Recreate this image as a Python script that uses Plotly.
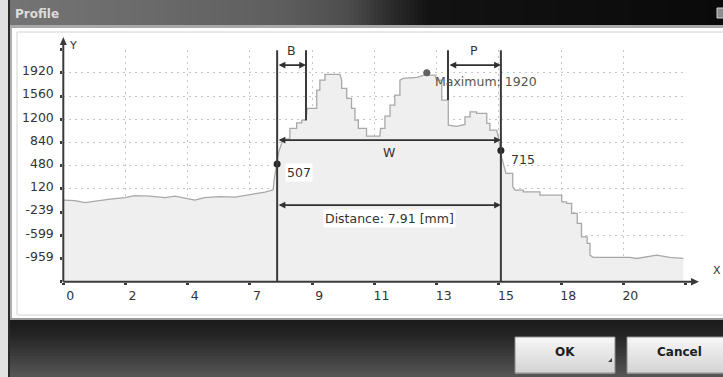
import numpy as np
import plotly.graph_objects as go

FIG_W, FIG_H = 723, 377

# Height profile along the scan line (x in mm, height in µm)
PROFILE_X = [0.00, 0.41, 0.77, 1.12, 1.65, 2.18, 2.53, 3.06, 3.60, 3.95, 4.48, 4.65,
             5.00, 5.54, 6.07, 6.43, 6.78, 7.13, 7.38, 7.42, 7.45, 7.52, 7.56, 7.62,
             7.72, 7.75, 8.01, 8.01, 8.25, 8.25, 8.43, 8.43, 8.58, 8.62, 8.96, 8.96,
             9.07, 9.07, 9.25, 9.25, 9.78, 9.84, 9.84, 10.02, 10.02, 10.19, 10.19,
             10.31, 10.31, 10.43, 10.43, 10.72, 10.72, 11.19, 11.22, 11.37, 11.37,
             11.55, 11.55, 11.72, 11.72, 11.90, 11.90, 12.02, 12.50, 12.75, 12.85,
             12.90, 13.14, 13.20, 13.38, 13.38, 13.61, 13.61, 13.90, 14.20, 14.20,
             14.38, 14.38, 14.61, 14.61, 14.97, 14.97, 15.08, 15.08, 15.32, 15.38,
             15.47, 15.50, 15.65, 15.89, 15.89, 15.97, 16.26, 16.26, 16.85, 16.85,
             17.62, 17.62, 17.79, 17.79, 17.97, 17.97, 18.17, 18.17, 18.32, 18.32,
             18.52, 18.52, 18.62, 18.62, 18.73, 20.03, 20.27, 20.62, 20.98, 21.44,
             21.92]
PROFILE_Y = [-55, -62, -93, -70, -39, -16, 15, 8, -16, 8, -39, -55,
             -16, 0, -8, 15, 38, 70, 100, 110, 250, 420, 507, 700,
             825, 876, 900, 1058, 1058, 1144, 1144, 1186, 1186, 1368, 1368, 1652,
             1652, 1807, 1807, 1895, 1895, 1807, 1678, 1678, 1523, 1523, 1368,
             1368, 1186, 1186, 1058, 1058, 938, 938, 1058, 1058, 1248,
             1248, 1419, 1419, 1574, 1574, 1807, 1833, 1850, 1884, 1920,
             1884, 1884, 1807, 1807, 1497, 1497, 1109, 1090, 1120, 1238,
             1238, 1315, 1315, 1290, 1290, 1135, 1135, 1031, 1031, 927,
             715, 600, 360, 360, 152, 101, 101, 74, 74, 23,
             23, -81, -81, -106, -106, -261, -261, -416, -416, -624,
             -624, -726, -726, -908, -943, -943, -960, -934, -908, -943,
             -959]

X_TICKS = [0, 2.2, 4.4, 6.6, 8.8, 11.0, 13.2, 15.4, 17.6, 19.8, 22.0]
X_TICK_LABELS = ['0', '2', '4', '7', '9', '11', '13', '15', '18', '20', '']
Y_TICKS = [-1320, -960, -600, -240, 120, 480, 840, 1200, 1560, 1920, 2280]
Y_TICK_LABELS = ['', '-959', '-599', '-239', '120', '480', '840', '1200', '1560', '1920', '']

# Measurement cursors (mm)
EDGE_LEFT = 7.56
EDGE_RIGHT = 15.47
B_EDGE = 8.58
P_EDGE = 13.60

X_RANGE = [0, 22]
Y_RANGE = [-1320, 2280]

# Plot-area box in pixels
PLOT_L, PLOT_R, PLOT_T, PLOT_B = 63.3, 685.6, 49.6, 281.7

CURSOR_TOP = 2270
BP_ARROW_Y = 2040
W_ARROW_Y = 876
DIST_ARROW_Y = -132

FONT = "DejaVu Sans"
INK = "#333333"
FS = 12.5


def fx(px):
    return px / FIG_W


def fy(py):
    return 1 - py / FIG_H


def gray(v):
    v = int(round(v))
    return f"rgb({v},{v},{v})"


shapes = []
annotations = []


def rect(x0, y0, x1, y1, fill, line_color=None, lw=0, layer="below"):
    shapes.append(dict(type="rect", xref="paper", yref="paper",
                       x0=fx(x0), x1=fx(x1), y0=fy(y1), y1=fy(y0),
                       fillcolor=fill, layer=layer,
                       line=dict(width=lw, color=line_color or fill)))


def hline_px(x0, x1, y, color, lw=1, layer="below"):
    shapes.append(dict(type="line", xref="paper", yref="paper",
                       x0=fx(x0), x1=fx(x1), y0=fy(y), y1=fy(y),
                       line=dict(color=color, width=lw), layer=layer))


def vline_px(x, y0, y1, color, lw=1, layer="below"):
    shapes.append(dict(type="line", xref="paper", yref="paper",
                       x0=fx(x), x1=fx(x), y0=fy(y0), y1=fy(y1),
                       line=dict(color=color, width=lw), layer=layer))


def path_px(points, fill, layer="above"):
    d = "M " + " L ".join(f"{fx(a):.5f},{fy(b):.5f}" for a, b in points) + " Z"
    shapes.append(dict(type="path", xref="paper", yref="paper", path=d,
                       fillcolor=fill, line=dict(width=0), layer=layer))


def hgradient(x0, x1, y0, y1, stops, step=4):
    xs, vs = zip(*stops)
    x = x0
    while x < x1:
        xe = min(x + step, x1)
        rect(x, y0, xe + 0.6, y1, gray(np.interp((x + xe) / 2, xs, vs)))
        x = xe


def vgradient(x0, x1, y0, y1, stops, step=3):
    ys, vs = zip(*stops)
    y = y0
    while y < y1:
        ye = min(y + step, y1)
        rect(x0, y, x1, ye + 0.6, gray(np.interp((y + ye) / 2, ys, vs)))
        y = ye


# ---- dialog window chrome ----
rect(0, 0, FIG_W, FIG_H, "#2a2a2a")
rect(0, 0, 8, FIG_H, "#e2e2e2")
rect(8, 0, 10, FIG_H, "#2b2b2b")
hgradient(10, FIG_W, 0, 25, [(10, 0x74), (150, 0x6a), (280, 0x5e), (350, 0x4c),
                              (390, 0x2c), (430, 0x12), (FIG_W, 0x0a)])
rect(10, 25, FIG_W, 28, "#a8a8a8")
rect(10, 28, FIG_W, 318, "#ffffff")
rect(10, 28, 12, 318, "#b0b0b0")
rect(17, 32, FIG_W + 5, 315, "rgba(0,0,0,0)", "#d2d2d2", 1)
rect(10, 318, FIG_W, 320, "#9a9a9a")
vgradient(10, FIG_W, 320, FIG_H, [(320, 0x1a), (335, 0x24), (FIG_H, 0x56)])
rect(717, 8, 727, 18, "#8e8e8e", "#d0d0d0", 1)

# buttons
for bx0, bx1 in [(515, 615), (627, 735)]:
    vgradient(bx0, bx1, 337, 373, [(337, 0xf7), (373, 0xd3)], step=2)
    rect(bx0, 337, bx1, 373, "rgba(0,0,0,0)", "#8c8c8c", 1)
    path_px([(bx1 - 3, 358), (bx1 - 3, 362), (bx1 - 7, 362)], "#404040", layer="below")

annotations += [
    dict(text="<b>Profile</b>", x=fx(13), y=fy(14), xref="paper", yref="paper",
         xanchor="left", yanchor="middle", showarrow=False,
         font=dict(family=FONT, size=12, color="#dcdcdc")),
    dict(text="<b>OK</b>", x=fx(565), y=fy(352), xref="paper", yref="paper",
         xanchor="center", yanchor="middle", showarrow=False,
         font=dict(family=FONT, size=12, color="#202020")),
    dict(text="<b>Cancel</b>", x=fx(679), y=fy(352), xref="paper", yref="paper",
         xanchor="center", yanchor="middle", showarrow=False,
         font=dict(family=FONT, size=12, color="#202020")),
    dict(text="Y", x=fx(67), y=fy(46), xref="paper", yref="paper",
         xanchor="left", yanchor="middle", showarrow=False,
         font=dict(family=FONT, size=11, color=INK)),
    dict(text="X", x=fx(717), y=fy(270), xref="paper", yref="paper",
         xanchor="center", yanchor="middle", showarrow=False,
         font=dict(family=FONT, size=11, color=INK)),
]

# ---- axes with arrow tips ----
AX = "#3a3a3a"
vline_px(PLOT_L, PLOT_B, 42, AX, 2, layer="above")
hline_px(PLOT_L, 692, PLOT_B, AX, 2, layer="above")
path_px([(PLOT_L, 37), (PLOT_L - 3.5, 45), (PLOT_L + 3.5, 45)], AX)
path_px([(699, PLOT_B), (691, PLOT_B - 3.8), (691, PLOT_B + 3.8)], AX)

# ---- measurement cursors ----
px_arr = np.array(PROFILE_X)
py_arr = np.array(PROFILE_Y)
val_left = float(np.interp(EDGE_LEFT, px_arr, py_arr))
val_right = float(np.interp(EDGE_RIGHT, px_arr, py_arr))
b_bottom = float(np.interp(B_EDGE, px_arr, py_arr))
p_bottom = float(np.interp(P_EDGE, px_arr, py_arr))
imax = int(np.argmax(py_arr))
x_max, y_max = float(px_arr[imax]), float(py_arr[imax])
distance = EDGE_RIGHT - EDGE_LEFT

CUR = "#3a3a3a"
for xc, y0 in [(EDGE_LEFT, Y_RANGE[0]), (EDGE_RIGHT, Y_RANGE[0]),
               (B_EDGE, b_bottom), (P_EDGE, p_bottom)]:
    shapes.append(dict(type="line", xref="x", yref="y", x0=xc, x1=xc,
                       y0=y0, y1=CURSOR_TOP, line=dict(color=CUR, width=2),
                       layer="above"))

for x1, x2, ya in [(EDGE_LEFT, B_EDGE, BP_ARROW_Y), (P_EDGE, EDGE_RIGHT, BP_ARROW_Y),
                   (EDGE_LEFT, EDGE_RIGHT, W_ARROW_Y),
                   (EDGE_LEFT, EDGE_RIGHT, DIST_ARROW_Y)]:
    annotations.append(dict(x=x2, y=ya, ax=x1, ay=ya, xref="x", yref="y",
                            axref="x", ayref="y", text="", showarrow=True,
                            arrowhead=2, arrowsize=0.75, arrowwidth=1.8,
                            startarrowhead=2, startarrowsize=0.75,
                            arrowside="end+start", arrowcolor="#303030",
                            standoff=0, startstandoff=0))

lab_font = dict(family=FONT, size=FS, color=INK)
annotations += [
    dict(text="B", x=(EDGE_LEFT + B_EDGE) / 2, y=BP_ARROW_Y, xref="x", yref="y",
         yshift=15, showarrow=False, font=lab_font),
    dict(text="P", x=(P_EDGE + EDGE_RIGHT) / 2, y=BP_ARROW_Y, xref="x", yref="y",
         yshift=15, showarrow=False, font=lab_font),
    dict(text="W", x=(EDGE_LEFT + EDGE_RIGHT) / 2, y=W_ARROW_Y, xref="x", yref="y",
         yshift=-12, showarrow=False, font=lab_font),
    dict(text=f"Distance: {distance:.2f} [mm]", x=(EDGE_LEFT + EDGE_RIGHT) / 2,
         y=DIST_ARROW_Y, xref="x", yref="y", yshift=-13, showarrow=False,
         font=dict(family=FONT, size=12.5, color=INK), bgcolor="#ffffff", borderpad=1),
    dict(text=f"{val_left:.0f}", x=EDGE_LEFT, y=val_left, xref="x", yref="y",
         xanchor="left", xshift=8, yshift=-9, showarrow=False, font=lab_font,
         bgcolor="#ffffff", borderpad=1),
    dict(text=f"{val_right:.0f}", x=EDGE_RIGHT, y=val_right, xref="x", yref="y",
         xanchor="left", xshift=8, yshift=-9, showarrow=False, font=lab_font),
    dict(text=f"Maximum: {y_max:.0f}", x=x_max, y=y_max, xref="x", yref="y",
         xanchor="left", xshift=6, yshift=-9, showarrow=False,
         font=dict(family=FONT, size=FS, color="#555555")),
]

# ---- traces ----
fig = go.Figure()
fig.add_trace(go.Scatter(x=[PROFILE_X[0], PROFILE_X[-1]], y=[Y_RANGE[0], Y_RANGE[0]],
                         mode="lines", line=dict(width=0), hoverinfo="skip",
                         showlegend=False))
fig.add_trace(go.Scatter(x=PROFILE_X, y=PROFILE_Y, mode="lines", fill="tonexty",
                         fillcolor="#efefef", line=dict(color="#a8a8a8", width=1.3),
                         showlegend=False))
fig.add_trace(go.Scatter(x=[EDGE_LEFT, EDGE_RIGHT], y=[val_left, val_right],
                         mode="markers", marker=dict(color="#262626", size=7),
                         showlegend=False, cliponaxis=False))
fig.add_trace(go.Scatter(x=[x_max], y=[y_max], mode="markers",
                         marker=dict(color="#606060", size=7),
                         showlegend=False, cliponaxis=False))

fig.update_layout(
    width=FIG_W, height=FIG_H, margin=dict(l=0, r=0, t=0, b=0),
    paper_bgcolor="#2a2a2a", plot_bgcolor="rgba(0,0,0,0)",
    shapes=shapes, annotations=annotations, showlegend=False,
    font=dict(family=FONT, size=FS, color=INK),
    xaxis=dict(domain=[fx(PLOT_L), fx(PLOT_R)], range=X_RANGE,
               tickmode="array", tickvals=X_TICKS, ticktext=X_TICK_LABELS,
               showgrid=True, gridcolor="#c6c6c6", griddash="2px,4px", gridwidth=1,
               showline=False, zeroline=False, ticks="outside", ticklen=2,
               tickwidth=3, tickcolor=AX, ticklabelshift=7,
               tickfont=dict(family=FONT, size=FS, color=INK), fixedrange=True),
    yaxis=dict(domain=[fy(PLOT_B), fy(PLOT_T)], range=Y_RANGE,
               tickmode="array", tickvals=Y_TICKS, ticktext=Y_TICK_LABELS,
               showgrid=True, gridcolor="#c6c6c6", griddash="2px,4px", gridwidth=1,
               showline=False, zeroline=False, ticks="outside", ticklen=2,
               tickwidth=3, tickcolor=AX, ticklabelstandoff=4, ticklabelshift=-2,
               tickfont=dict(family=FONT, size=FS, color=INK), fixedrange=True),
)

fig.write_html("out.html", config={"displayModeBar": False})
